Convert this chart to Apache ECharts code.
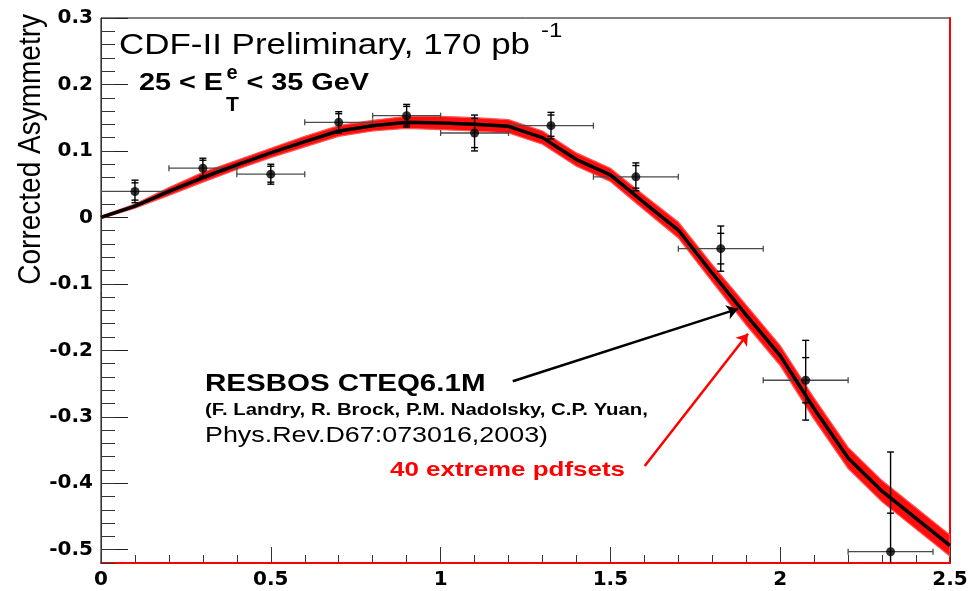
<!DOCTYPE html>
<html>
<head>
<meta charset="utf-8">
<script src="https://cdn.jsdelivr.net/npm/echarts@6/dist/echarts.min.js"></script>
<style>
  html, body { margin: 0; padding: 0; background: #fff; }
  #chart { width: 980px; height: 591px; }
</style>
</head>
<body>
<div id="chart"></div>
<script>
// Measured charge asymmetry in pseudorapidity bins
const binCenter = [0.1, 0.3, 0.5, 0.7, 0.9, 1.1, 1.325, 1.575, 1.825, 2.075, 2.325];
const binLow    = [0.0, 0.2, 0.4, 0.6, 0.8, 1.0, 1.2, 1.45, 1.7, 1.95, 2.2];
const binHigh   = [0.2, 0.4, 0.6, 0.8, 1.0, 1.2, 1.45, 1.7, 1.95, 2.2, 2.45];
const asymmetry = [0.039, 0.074, 0.065, 0.143, 0.153, 0.127, 0.138, 0.061, -0.047, -0.245, -0.503];
const errTotal  = [0.017, 0.015, 0.015, 0.016, 0.017, 0.027, 0.020, 0.021, 0.034, 0.060, 0.150];
const errStat   = [0.013, 0.012, 0.012, 0.013, 0.014, 0.022, 0.016, 0.017, 0.023, 0.034, 0.058];

// RESBOS CTEQ6.1M prediction and the spread of the 40 extreme pdf sets
const theoryX  = [0, 0.1, 0.2, 0.3, 0.4, 0.5, 0.6, 0.7, 0.8, 0.9, 1.0, 1.1, 1.2, 1.3, 1.4, 1.5, 1.6, 1.7, 1.8, 1.9, 2.0, 2.1, 2.2, 2.3, 2.4, 2.5];
const resbos   = [0, 0.017, 0.039, 0.060, 0.079, 0.097, 0.114, 0.130, 0.138, 0.143, 0.142, 0.140, 0.137, 0.120, 0.087, 0.064, 0.022, -0.019, -0.084, -0.147, -0.208, -0.288, -0.362, -0.412, -0.453, -0.494];
const pdfHigh  = [0.002, 0.020, 0.045, 0.068, 0.086, 0.104, 0.122, 0.138, 0.146, 0.152, 0.152, 0.150, 0.147, 0.130, 0.097, 0.074, 0.033, -0.007, -0.071, -0.132, -0.193, -0.272, -0.346, -0.396, -0.437, -0.478];
const pdfLow   = [-0.002, 0.014, 0.033, 0.053, 0.072, 0.090, 0.106, 0.122, 0.130, 0.134, 0.132, 0.130, 0.127, 0.110, 0.077, 0.054, 0.011, -0.031, -0.097, -0.162, -0.223, -0.304, -0.378, -0.428, -0.469, -0.510];

// Axis ranges and labelled ticks
const X_MIN = 0, X_MAX = 2.5;
const Y_MIN = -0.52, Y_MAX = 0.3;
const yTickValues = [0.3, 0.2, 0.1, 0, -0.1, -0.2, -0.3, -0.4, -0.5];

// Annotation arrows, in data coordinates: [[x0, y0], [x1, y1]]
const arrowResbos = [[1.2125, -0.2466], [1.8755, -0.1377]];
const arrowPdf    = [[1.601, -0.374], [1.905, -0.175]];

const chart = echarts.init(document.getElementById('chart'), null, { renderer: 'canvas' });

const FONT = '"Liberation Sans", Arial, Helvetica, sans-serif';
const TICK_FONT = '"DejaVu Sans", sans-serif';

function txt(x, y, text, font, opts) {
  opts = opts || {};
  return {
    type: 'text', x: x, y: y, z: 100,
    scaleX: opts.scaleX || 1, scaleY: opts.scaleY || 1,
    rotation: opts.rotation || 0,
    style: {
      text: text, font: font, fill: opts.fill || '#000',
      align: opts.align || 'left', verticalAlign: 'middle'
    }
  };
}

const option = {
  animation: false,
  backgroundColor: '#fff',
  grid: { left: 101, right: 30, top: 18, bottom: 28, show: true, borderColor: '#000', borderWidth: 1, backgroundColor: 'transparent' },
  xAxis: [{
    type: 'value', min: X_MIN, max: X_MAX, interval: 0.5, position: 'bottom',
    axisLine: { show: true, onZero: false, lineStyle: { color: '#ff0000', width: 2 } },
    axisTick: { show: true, inside: true, length: 16, lineStyle: { color: '#333', width: 1 } },
    minorTick: { show: true, splitNumber: 5, length: 8, lineStyle: { color: '#333', width: 1 } },
    axisLabel: { fontFamily: TICK_FONT, fontWeight: 'bold', fontSize: 20, color: '#000', margin: 7 },
    splitLine: { show: false }
  }],
  yAxis: [{
    type: 'value', min: Y_MIN, max: Y_MAX, interval: 0.02, position: 'left',
    axisLine: { show: true, onZero: false, lineStyle: { color: '#333', width: 1 } },
    axisTick: { show: true, inside: true, length: 27, customValues: yTickValues, lineStyle: { color: '#222', width: 1 } },
    axisLabel: { customValues: yTickValues, fontFamily: TICK_FONT, fontWeight: 'bold', fontSize: 20, color: '#000', margin: 8 },
    splitLine: { show: false }
  }, {
    type: 'value', min: Y_MIN, max: Y_MAX, interval: 0.02, position: 'left',
    axisLine: { show: false },
    axisTick: { show: true, inside: true, length: 14, lineStyle: { color: '#333', width: 1 } },
    axisLabel: { show: false },
    splitLine: { show: false }
  }, {
    type: 'value', min: Y_MIN, max: Y_MAX, position: 'right',
    axisLine: { show: true, onZero: false, lineStyle: { color: '#ff0000', width: 2 } },
    axisTick: { show: false }, axisLabel: { show: false }, splitLine: { show: false }
  }],
  series: [
    {
      // envelope of the 40 extreme pdf sets
      name: 'pdfsets', type: 'custom', silent: true, z: 1, clip: true,
      data: [[X_MIN, 0]],
      renderItem: function (params, api) {
        const pts = [];
        for (let i = 0; i < theoryX.length; i++) pts.push(api.coord([theoryX[i], pdfHigh[i]]));
        for (let i = theoryX.length - 1; i >= 0; i--) pts.push(api.coord([theoryX[i], pdfLow[i]]));
        return {
          type: 'polygon', shape: { points: pts },
          style: { fill: '#ff0d0d', stroke: '#ff5555', lineWidth: 1.2 }
        };
      }
    },
    {
      // data error bars: x bin width, total and statistical uncertainty
      name: 'errors', type: 'custom', silent: true, z: 3, clip: true,
      data: binCenter.map((x, i) => [x, asymmetry[i], binLow[i], binHigh[i], errTotal[i], errStat[i]]),
      renderItem: function (params, api) {
        const x = api.value(0), y = api.value(1);
        const xl = api.value(2), xh = api.value(3);
        const eo = api.value(4), ei = api.value(5);
        const pL = api.coord([xl, y]), pR = api.coord([xh, y]);
        const topY = y + eo, botY = Math.max(y - eo, Y_MIN);
        const pT = api.coord([x, topY]), pB = api.coord([x, botY]);
        const sT = api.coord([x, y + ei]), sB = api.coord([x, y - ei]);
        const grey = { stroke: '#4a4a4a', lineWidth: 1.3 };
        const blk = { stroke: '#000', lineWidth: 1.4 };
        const seg = (x1, y1, x2, y2, st) => ({ type: 'line', shape: { x1: x1, y1: y1, x2: x2, y2: y2 }, style: st });
        const kids = [
          seg(pL[0], pL[1], pR[0], pR[1], grey),
          seg(pL[0], pL[1] - 3, pL[0], pL[1] + 3, grey),
          seg(pR[0], pR[1] - 3, pR[0], pR[1] + 3, grey),
          seg(pT[0], pT[1], pB[0], pB[1], blk),
          seg(pT[0] - 3.5, pT[1], pT[0] + 3.5, pT[1], blk),
          seg(sT[0] - 3.5, sT[1], sT[0] + 3.5, sT[1], blk),
          seg(sB[0] - 3.5, sB[1], sB[0] + 3.5, sB[1], blk)
        ];
        if (y - eo >= Y_MIN) kids.push(seg(pB[0] - 3.5, pB[1], pB[0] + 3.5, pB[1], blk));
        return { type: 'group', children: kids };
      }
    },
    {
      name: 'RESBOS CTEQ6.1M', type: 'line', z: 4,
      data: theoryX.map((x, i) => [x, resbos[i]]),
      showSymbol: false, smooth: false, silent: true,
      lineStyle: { color: '#000', width: 3.5 },
      markLine: {
        silent: true, animation: false,
        symbol: ['none', 'arrow'], symbolSize: 11,
        label: { show: false },
        emphasis: { disabled: true },
        data: [
          [{ coord: arrowResbos[0], lineStyle: { color: '#000', width: 2.5, type: 'solid' } }, { coord: arrowResbos[1] }],
          [{ coord: arrowPdf[0], lineStyle: { color: '#ff0000', width: 2.5, type: 'solid' } }, { coord: arrowPdf[1] }]
        ]
      }
    },
    {
      name: 'data', type: 'scatter', z: 5, silent: true,
      data: binCenter.map((x, i) => [x, asymmetry[i]]),
      symbol: 'circle', symbolSize: 9,
      itemStyle: { color: '#000' }
    }
  ],
  graphic: [
    txt(31.5, 14, 'Corrected Asymmetry', '28px ' + FONT, { rotation: Math.PI / 2, align: 'right', scaleY: 1.12 }),
    txt(119, 45.5, 'CDF-II Preliminary, 170 pb', '29px ' + FONT, { scaleX: 1.205 }),
    txt(541, 31, '-1', '20px ' + FONT, { scaleX: 1.2 }),
    txt(139, 83.8, '25 < E', 'bold 24px ' + FONT, { scaleX: 1.2 }),
    txt(226.5, 73.5, 'e', 'bold 20px ' + FONT, { scaleX: 1.0 }),
    txt(226, 105.3, 'T', 'bold 21px ' + FONT, { scaleX: 1.0 }),
    txt(246.5, 83.8, '< 35 GeV', 'bold 24px ' + FONT, { scaleX: 1.2 }),
    txt(205, 384.8, 'RESBOS CTEQ6.1M', 'bold 24px ' + FONT, { scaleX: 1.23 }),
    txt(205, 410.8, '(F. Landry, R. Brock, P.M. Nadolsky, C.P. Yuan,', 'bold 16.3px ' + FONT, { scaleX: 1.25 }),
    txt(205, 436, 'Phys.Rev.D67:073016,2003)', '22.3px ' + FONT, { scaleX: 1.205 }),
    txt(390, 469.8, '40 extreme pdfsets', 'bold 21px ' + FONT, { scaleX: 1.235, fill: '#ff0000' })
  ]
};

chart.setOption(option);
</script>
</body>
</html>
